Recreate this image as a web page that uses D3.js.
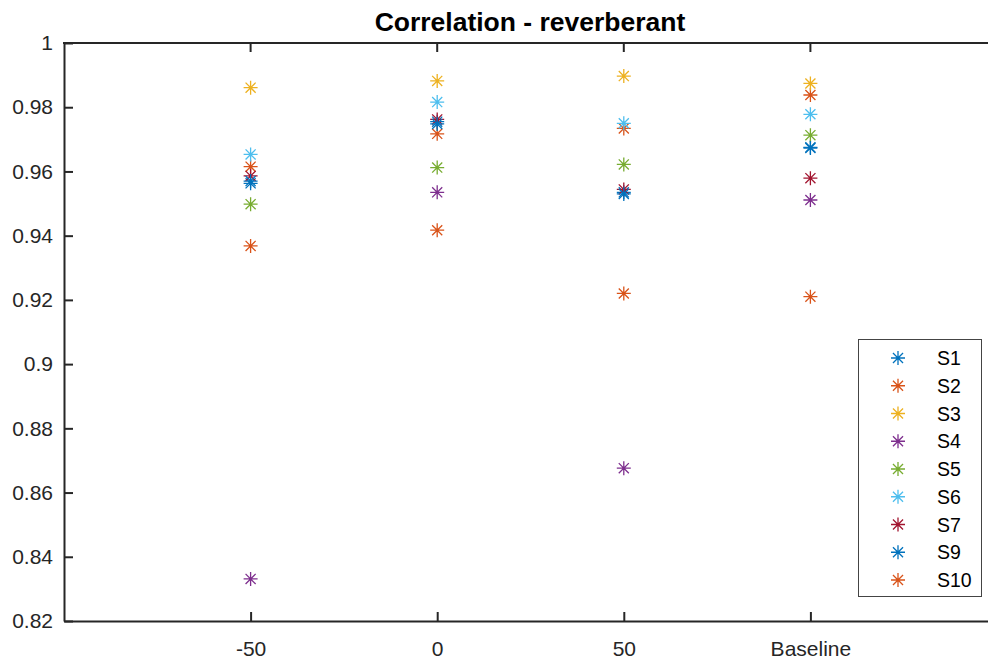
<!DOCTYPE html>
<html>
<head>
<meta charset="utf-8">
<script src="https://cdn.jsdelivr.net/npm/d3@7"></script>
<style>
  body { margin: 0; background: #fff; }
  svg { display: block; font-family: "Liberation Sans", Arial, sans-serif; }
</style>
</head>
<body>
<div class="graph"></div>
<script>
// Correlation - reverberant, one asterisk per subject per condition

var conditions = ["-50", "0", "50", "Baseline"];
var subjects = ["S1", "S2", "S3", "S4", "S5", "S6", "S7", "S9", "S10"];
var colors = ["#0072BD", "#D95319", "#EDB120", "#7E2F8E", "#77AC30", "#4DBEEE", "#A2142F", "#0072BD", "#D95319"];

// values per subject, in the order of conditions
var S1 = [0.9563, 0.9755, 0.9535, 0.9675];
var S2 = [0.9615, 0.9717, 0.9734, 0.9838];
var S3 = [0.9861, 0.9882, 0.9897, 0.9874];
var S4 = [0.8331, 0.9535, 0.8676, 0.9511];
var S5 = [0.9498, 0.9612, 0.9622, 0.9713];
var S6 = [0.9653, 0.9816, 0.9750, 0.9778];
var S7 = [0.9586, 0.9762, 0.9544, 0.9579];
var S9 = [0.9570, 0.9748, 0.9530, 0.9673];
var S10 = [0.9368, 0.9417, 0.9220, 0.9210];
var values = [S1, S2, S3, S4, S5, S6, S7, S9, S10];

var yTicks = [0.82, 0.84, 0.86, 0.88, 0.9, 0.92, 0.94, 0.96, 0.98, 1];

var width = 988, height = 662;
var axLeft = 64, axTop = 43, axRight = 997, axBottom = 621;

let svg = d3.select(".graph").append("svg")
    .attr("width", width)
    .attr("height", height);

let x = d3.scalePoint()
    .domain(conditions)
    .range([axLeft, axRight])
    .padding(1);

let y = d3.scaleLinear()
    .domain([0.82, 1])
    .range([axBottom, axTop]);

// title
svg.append("text")
    .attr("x", 530)
    .attr("y", 31)
    .attr("text-anchor", "middle")
    .attr("font-size", 26.5)
    .attr("font-weight", "bold")
    .attr("fill", "#000")
    .text("Correlation - reverberant");

// axes (ticks pointing in, matlab style)
let xAxis = svg.append("g")
    .attr("transform", "translate(0," + axBottom + ")")
    .call(d3.axisBottom(x).tickSizeInner(-9).tickSizeOuter(0).tickPadding(20));

let yAxis = svg.append("g")
    .attr("transform", "translate(" + axLeft + ",0)")
    .call(d3.axisLeft(y).tickValues(yTicks).tickFormat(d3.format("~g")).tickSizeInner(-9).tickSizeOuter(0).tickPadding(11));

[xAxis, yAxis].forEach(function(g) {
    g.select(".domain").attr("stroke", "#262626").attr("stroke-width", 2);
    g.selectAll(".tick line").attr("stroke", "#262626").attr("stroke-width", 2);
    g.selectAll(".tick text")
        .attr("fill", "#262626")
        .attr("font-size", 21)
        .attr("font-family", "Liberation Sans, Arial, sans-serif");
});

// top box line
svg.append("line")
    .attr("x1", axLeft - 1).attr("x2", axRight)
    .attr("y1", axTop).attr("y2", axTop)
    .attr("stroke", "#262626").attr("stroke-width", 2);
// top ticks
svg.selectAll(".topTick")
    .data(conditions)
    .enter().append("line")
    .attr("x1", function(d) { return x(d); })
    .attr("x2", function(d) { return x(d); })
    .attr("y1", axTop).attr("y2", axTop + 9)
    .attr("stroke", "#262626").attr("stroke-width", 2);

function asterisk(g, cx, cy, r, color) {
    var d = r * 0.72;
    var p = "M" + (cx - r) + "," + cy + "H" + (cx + r)
        + "M" + cx + "," + (cy - r) + "V" + (cy + r)
        + "M" + (cx - d) + "," + (cy - d) + "L" + (cx + d) + "," + (cy + d)
        + "M" + (cx - d) + "," + (cy + d) + "L" + (cx + d) + "," + (cy - d);
    g.append("path")
        .attr("d", p)
        .attr("stroke", color)
        .attr("stroke-width", 1.3)
        .attr("fill", "none");
}

let marks = svg.append("g");
subjects.forEach(function(s, i) {
    values[i].forEach(function(v, j) {
        asterisk(marks, x(conditions[j]), y(v), 7, colors[i]);
    });
});

// legend
let legend = svg.append("g");
legend.append("rect")
    .attr("x", 858.5).attr("y", 339.5)
    .attr("width", 123).attr("height", 257)
    .attr("fill", "#fff")
    .attr("stroke", "#444")
    .attr("stroke-width", 1);

subjects.forEach(function(s, i) {
    var ly = 358 + i * 27.75;
    asterisk(legend, 898, ly, 7, colors[i]);
    legend.append("text")
        .attr("x", 937)
        .attr("y", ly)
        .attr("dy", "0.36em")
        .attr("font-size", 19.5)
        .attr("fill", "#000")
        .text(s);
});
</script>
</body>
</html>
